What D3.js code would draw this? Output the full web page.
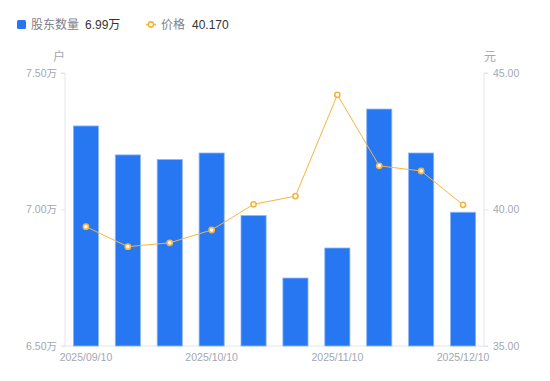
<!DOCTYPE html>
<html><head><meta charset="utf-8">
<script src="https://cdn.jsdelivr.net/npm/d3@7"></script>
<style>body{margin:0;background:#fff;font-family:"Noto Sans CJK SC","Noto Sans",sans-serif;}</style>
</head><body><svg id="c" width="550" height="381"></svg>
<script>
const dates = ["2025/09/10","2025/09/20","2025/09/30","2025/10/10","2025/10/20","2025/10/31","2025/11/10","2025/11/20","2025/11/30","2025/12/10"];
const holders = [7.306, 7.200, 7.183, 7.207, 6.978, 6.749, 6.859, 7.368, 7.207, 6.99];
const prices = [39.37, 38.64, 38.78, 39.25, 40.19, 40.49, 44.20, 41.60, 41.41, 40.17];
const leftTicks = [6.5, 7.0, 7.5];
const rightTicks = [35, 40, 45];
const shownDates = ["2025/09/10","2025/10/10","2025/11/10","2025/12/10"];

const svg = d3.select("#c");
const L = 65, R = 484, T = 73, B = 346;
const x = d3.scaleBand().domain(dates).range([L, R]).paddingInner(0.4).paddingOuter(0.2);
const yl = d3.scaleLinear().domain([6.5, 7.5]).range([B, T]);
const yr = d3.scaleLinear().domain([35, 45]).range([B, T]);
const axisCol = "#e3e5ea", txtCol = "#a3a7b3";
const numFont = '"Liberation Sans","Noto Sans CJK SC",sans-serif';

const gl = svg.append("g").attr("transform", `translate(${L},0)`)
  .call(d3.axisLeft(yl).tickValues(leftTicks).tickSize(4).tickPadding(4).tickFormat(d => d3.format(".2f")(d) + "万"));
const gr = svg.append("g").attr("transform", `translate(${R},0)`)
  .call(d3.axisRight(yr).tickValues(rightTicks).tickSize(4).tickPadding(5).tickFormat(d3.format(".2f")));
const gb = svg.append("g").attr("transform", `translate(0,${B})`)
  .call(d3.axisBottom(x).tickValues(shownDates).tickSize(0).tickPadding(8));
[gl, gr, gb].forEach(g => {
  g.selectAll("path.domain").attr("stroke", axisCol);
  g.selectAll(".tick line").attr("stroke", axisCol);
  g.selectAll("text").attr("fill", txtCol).style("font-family", numFont).style("font-size", "10.5px");
});
gl.select("path.domain").attr("d", `M-4,${T}H0V${B}H-4`);
gr.select("path.domain").attr("d", `M4,${T}H0V${B}H4`);
gb.select("path.domain").attr("d", `M${L},0H${R}`);
gb.selectAll("text").attr("dy", "0.71em");

svg.append("g").selectAll("rect").data(dates).join("rect")
  .attr("x", d => x(d)).attr("width", x.bandwidth())
  .attr("y", (d, i) => yl(holders[i])).attr("height", (d, i) => B - yl(holders[i]))
  .attr("fill", "#2877f2").attr("stroke", "#8db8f8").attr("stroke-width", 0.8);

const cx = d => x(d) + x.bandwidth() / 2;
svg.append("path").datum(dates)
  .attr("d", d3.line().x(cx).y((d, i) => yr(prices[i])))
  .attr("fill", "none").attr("stroke", "#f7b53e").attr("stroke-width", 1);
svg.append("g").selectAll("circle").data(dates).join("circle")
  .attr("cx", cx).attr("cy", (d, i) => yr(prices[i])).attr("r", 2.6)
  .attr("fill", "#fff").attr("stroke", "#f7b53e").attr("stroke-width", 1.6);

svg.append("text").attr("x", 59).attr("y", 61).attr("text-anchor", "middle").attr("fill", txtCol).style("font-size", "12px").text("户");
svg.append("text").attr("x", 490).attr("y", 61).attr("text-anchor", "middle").attr("fill", txtCol).style("font-size", "12px").text("元");

const lg = svg.append("g").style("font-size", "12px");
lg.append("rect").attr("x", 17).attr("y", 20).attr("width", 9).attr("height", 9).attr("rx", 1.5).attr("fill", "#2877f2");
lg.append("text").attr("x", 31).attr("y", 29).attr("fill", "#7d818c").text("股东数量");
lg.append("text").attr("x", 85).attr("y", 29).attr("fill", "#333").style("font-family", numFont).text("6.99万");
lg.append("line").attr("x1", 146).attr("x2", 156).attr("y1", 24.5).attr("y2", 24.5).attr("stroke", "#f7b53e").attr("stroke-width", 1.5);
lg.append("circle").attr("cx", 151).attr("cy", 24.5).attr("r", 2.6).attr("fill", "#fff").attr("stroke", "#f7b53e").attr("stroke-width", 1.6);
lg.append("text").attr("x", 161).attr("y", 29).attr("fill", "#7d818c").text("价格");
lg.append("text").attr("x", 192).attr("y", 29).attr("fill", "#333").style("font-family", numFont).text("40.170");
</script></body></html>
